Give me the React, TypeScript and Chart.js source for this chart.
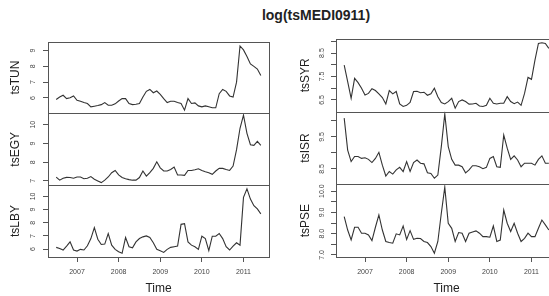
import React, { useEffect, useRef } from "react";
import { Chart, registerables } from "chart.js";

Chart.register(...registerables);

// ---------- data ----------
const startYear = 2006;
const startMonth = 7; // July 2006, monthly
const yearTicks = [2007, 2008, 2009, 2010, 2011];

const tsTUN = [
  5.90, 6.06, 6.17, 5.96, 6.02, 6.13, 5.85, 5.79, 5.71, 5.65,
  5.44, 5.48, 5.52, 5.58, 5.71, 5.54, 5.54, 5.63, 5.81, 5.96,
  5.96, 5.65, 5.58, 5.60, 5.65, 6.06, 6.42, 6.54, 6.33, 6.44,
  6.23, 5.96, 5.71, 5.79, 5.79, 5.71, 5.65, 5.23, 5.96, 5.65,
  5.69, 5.50, 5.44, 5.50, 5.44, 5.38, 5.38, 6.27, 6.54, 6.42,
  6.13, 6.06, 7.00, 9.29, 9.04, 8.63, 8.15, 8.00, 7.83, 7.42,
];
const tsEGY = [
  7.20, 7.04, 7.14, 7.19, 7.18, 7.14, 7.21, 7.21, 7.12, 7.14,
  7.23, 7.09, 7.00, 6.91, 7.04, 7.21, 7.44, 7.56, 7.32, 7.18,
  7.12, 7.07, 7.04, 7.04, 7.18, 7.53, 7.26, 7.44, 7.67, 8.02,
  7.70, 7.53, 7.53, 7.61, 7.74, 7.32, 7.32, 7.30, 7.56, 7.56,
  7.60, 7.65, 7.56, 7.49, 7.44, 7.35, 7.53, 7.67, 7.67, 7.61,
  7.56, 7.79, 8.67, 9.81, 10.51, 9.54, 8.93, 8.90, 9.11, 8.90,
];
const tsLBY = [
  6.13, 6.05, 5.93, 6.23, 6.55, 5.93, 5.85, 5.98, 5.93, 6.25,
  6.80, 7.63, 6.75, 6.35, 6.38, 7.18, 6.30, 5.98, 5.80, 5.68,
  6.88, 6.18, 6.10, 6.55, 6.80, 6.93, 7.00, 6.88, 6.48, 5.98,
  5.88, 5.75, 5.98, 6.13, 6.18, 6.23, 7.88, 7.93, 6.55, 6.30,
  6.18, 5.98, 6.98, 6.80, 5.88, 6.98, 6.98, 7.18, 6.80, 6.18,
  5.93, 6.23, 6.48, 6.30, 9.93, 10.58, 9.80, 9.30, 9.05, 8.68,
];
const tsSYR = [
  7.99, 7.28, 6.57, 7.42, 7.24, 7.00, 6.71, 6.78, 6.98, 6.90,
  6.76, 6.60, 6.33, 6.90, 6.76, 6.86, 6.33, 6.22, 6.27, 6.39,
  6.86, 6.87, 6.81, 6.83, 6.70, 6.76, 7.00, 6.64, 6.39, 6.33,
  6.43, 6.57, 6.15, 6.43, 6.50, 6.43, 6.32, 6.33, 6.36, 6.24,
  6.22, 6.27, 6.57, 6.36, 6.33, 6.36, 6.36, 6.64, 6.43, 6.34,
  6.41, 6.27, 6.78, 7.46, 7.38, 8.20, 8.91, 8.94, 8.91, 8.70,
];
const tsISR = [
  10.09, 9.09, 8.73, 8.89, 8.89, 8.83, 8.85, 8.80, 8.70, 8.83,
  9.02, 8.62, 8.28, 8.42, 8.34, 8.47, 8.55, 8.42, 8.73, 8.42,
  8.70, 8.78, 8.68, 8.66, 8.38, 8.36, 8.21, 8.31, 9.20, 10.22,
  9.20, 8.80, 8.62, 8.62, 8.57, 8.38, 8.47, 8.60, 8.60, 8.57,
  8.51, 8.55, 8.83, 8.89, 8.57, 8.55, 9.56, 9.15, 8.80, 8.91,
  8.78, 8.57, 8.68, 8.68, 8.68, 8.62, 8.80, 8.91, 8.68, 8.68,
];
const tsPSE = [
  8.80, 8.17, 7.70, 8.30, 8.30, 8.02, 8.02, 7.94, 7.67, 8.30,
  8.88, 8.17, 7.63, 7.58, 7.55, 7.99, 7.94, 8.36, 7.73, 8.14,
  7.73, 7.78, 7.77, 7.63, 7.58, 7.39, 7.08, 7.63, 8.96, 10.19,
  8.49, 8.25, 7.63, 8.05, 8.02, 7.63, 8.02, 8.08, 8.13, 8.02,
  7.86, 7.86, 7.83, 8.36, 7.63, 7.70, 9.11, 8.49, 8.10, 8.49,
  8.02, 7.63, 7.78, 8.02, 7.86, 7.86, 8.25, 8.64, 8.41, 8.17,
];

const tunTicks = [6, 7, 8, 9];
const tunLabels = ["6", "7", "8", "9"];
const egyTicks = [7, 8, 9, 10];
const egyLabels = ["7", "8", "9", "10"];
const lbyTicks = [6, 7, 8, 9, 10];
const lbyLabels = ["6", "7", "8", "9", "10"];
const syrTicks = [6.5, 7, 7.5, 8, 8.5, 9];
const syrLabels = ["6.5", "", "7.5", "", "8.5", ""];
const isrTicks = [8.5, 9, 9.5, 10];
const isrLabels = ["8.5", "", "9.5", ""];
const pseTicks = [7, 7.5, 8, 8.5, 9, 9.5, 10];
const pseLabels = ["7.0", "", "8.0", "", "9.0", "", "10.0"];

// ---------- styling ----------
const FONT = "'Liberation Sans', Arial, Helvetica, sans-serif";
const LINE = "#333";
const BOX = "#555";
const TXT = "#444";

type Panel = {
  name: string;
  values: number[];
  min: number;
  max: number;
  ticks: number[];
  labels: string[];
  pad: number;
};

const leftPanels: Panel[] = [
  { name: "tsTUN", values: tsTUN, min: 5.02, max: 9.56, ticks: tunTicks, labels: tunLabels, pad: 7.5 },
  { name: "tsEGY", values: tsEGY, min: 6.77, max: 10.6, ticks: egyTicks, labels: egyLabels, pad: 5.6 },
  { name: "tsLBY", values: tsLBY, min: 5.4, max: 10.85, ticks: lbyTicks, labels: lbyLabels, pad: 5.6 },
];
const rightPanels: Panel[] = [
  { name: "tsSYR", values: tsSYR, min: 6.0, max: 9.1, ticks: syrTicks, labels: syrLabels, pad: 4.1 },
  { name: "tsISR", values: tsISR, min: 8.02, max: 10.29, ticks: isrTicks, labels: isrLabels, pad: 4.1 },
  { name: "tsPSE", values: tsPSE, min: 6.9, max: 10.32, ticks: pseTicks, labels: pseLabels, pad: 2.2 },
];

const boxPlugin = {
  id: "panelBoxes",
  afterDatasetsDraw(chart: any) {
    const { ctx, chartArea } = chart;
    const ys = Object.values(chart.scales)
      .filter((s: any) => s.axis === "y")
      .sort((a: any, b: any) => a.top - b.top) as any[];
    if (!ys.length) return;
    const x0 = Math.round(chartArea.left) + 0.5;
    const x1 = Math.round(chartArea.right) + 0.5;
    const top = Math.round(ys[0].top) + 0.5;
    const bottom = Math.round(ys[ys.length - 1].bottom) + 0.5;
    ctx.save();
    ctx.strokeStyle = BOX;
    ctx.lineWidth = 1;
    ctx.strokeRect(x0, top, x1 - x0, bottom - top);
    ctx.beginPath();
    for (let k = 0; k < ys.length - 1; k++) {
      const y = Math.round(ys[k].bottom) + 0.5;
      ctx.moveTo(x0, y);
      ctx.lineTo(x1, y);
    }
    ctx.stroke();
    ctx.restore();
  },
};

function buildConfig(panels: Panel[], titlePad: number): any {
  const xMin = 2006.303;
  const xMax = 2011.613;
  const scales: any = {
    x: {
      type: "linear",
      position: "bottom",
      min: xMin,
      max: xMax,
      afterBuildTicks: (s: any) => {
        s.ticks = yearTicks.map((v) => ({ value: v }));
      },
      afterFit: (s: any) => {
        s.height = 39;
      },
      grid: { drawOnChartArea: false, drawTicks: true, tickLength: 5, color: BOX },
      border: { display: false },
      ticks: {
        autoSkip: false,
        maxRotation: 0,
        padding: 6,
        color: TXT,
        font: { family: FONT, size: 7 },
        callback: (v: any) => String(v),
      },
      title: {
        display: true,
        text: "Time",
        color: "#222",
        font: { family: FONT, size: 12 },
        padding: { top: 0, bottom: 0 },
      },
    },
  };
  // define bottom-to-top so stacking places the first panel on top
  const ordered = [...panels].reverse();
  ordered.forEach((p) => {
    scales["y_" + p.name] = {
      type: "linear",
      position: "left",
      stack: "col",
      stackWeight: 1,
      min: p.min,
      max: p.max,
      afterBuildTicks: (s: any) => {
        s.ticks = p.ticks.map((v) => ({ value: v }));
      },
      afterFit: (s: any) => {
        s.width = 48;
      },
      grid: { drawOnChartArea: false, drawTicks: true, tickLength: 5, color: BOX },
      border: { display: false },
      ticks: {
        autoSkip: false,
        minRotation: 90,
        maxRotation: 90,
        crossAlign: "center",
        padding: p.pad,
        color: TXT,
        font: { family: FONT, size: 7 },
        callback: (_v: any, i: number) => p.labels[i],
      },
      title: {
        display: true,
        text: p.name,
        color: "#222",
        font: { family: FONT, size: 12 },
        padding: { top: titlePad, bottom: 0 },
      },
    };
  });

  const datasets = panels.map((p) => ({
    label: p.name,
    xAxisID: "x",
    yAxisID: "y_" + p.name,
    data: p.values.map((v, i) => ({ x: startYear + (startMonth - 1 + i) / 12, y: v })),
    borderColor: LINE,
    borderWidth: 1.1,
    pointRadius: 0,
    tension: 0,
    fill: false,
  }));

  return {
    type: "line",
    data: { datasets },
    options: {
      responsive: false,
      animation: false,
      devicePixelRatio: 1,
      layout: { padding: { top: 9, right: 11, left: 0, bottom: 0 } },
      plugins: { legend: { display: false }, tooltip: { enabled: false }, title: { display: false } },
      scales,
    },
    plugins: [boxPlugin],
  };
}

function Column({ panels, left, titlePad }: { panels: Panel[]; left: number; titlePad: number }) {
  const ref = useRef<HTMLCanvasElement>(null);
  useEffect(() => {
    const chart = new Chart(ref.current as HTMLCanvasElement, buildConfig(panels, titlePad));
    return () => chart.destroy();
  }, []);
  return (
    <canvas
      ref={ref}
      width={280}
      height={266}
      style={{ position: "absolute", left, top: 30, width: 280, height: 266 }}
    />
  );
}

export default function App() {
  return (
    <div
      style={{
        position: "absolute",
        left: 0,
        top: 0,
        width: 549,
        height: 296,
        overflow: "hidden",
        background: "#fff",
      }}
    >
      <div
        style={{
          position: "absolute",
          left: 166,
          width: 300,
          top: 6,
          lineHeight: "18px",
          textAlign: "center",
          fontFamily: FONT,
          fontWeight: "bold",
          fontSize: 14,
          color: "#222",
        }}
      >
        log(tsMEDI0911)
      </div>
      <Column panels={leftPanels} left={0} titlePad={8} />
      <Column panels={rightPanels} left={288} titlePad={10} />
    </div>
  );
}
